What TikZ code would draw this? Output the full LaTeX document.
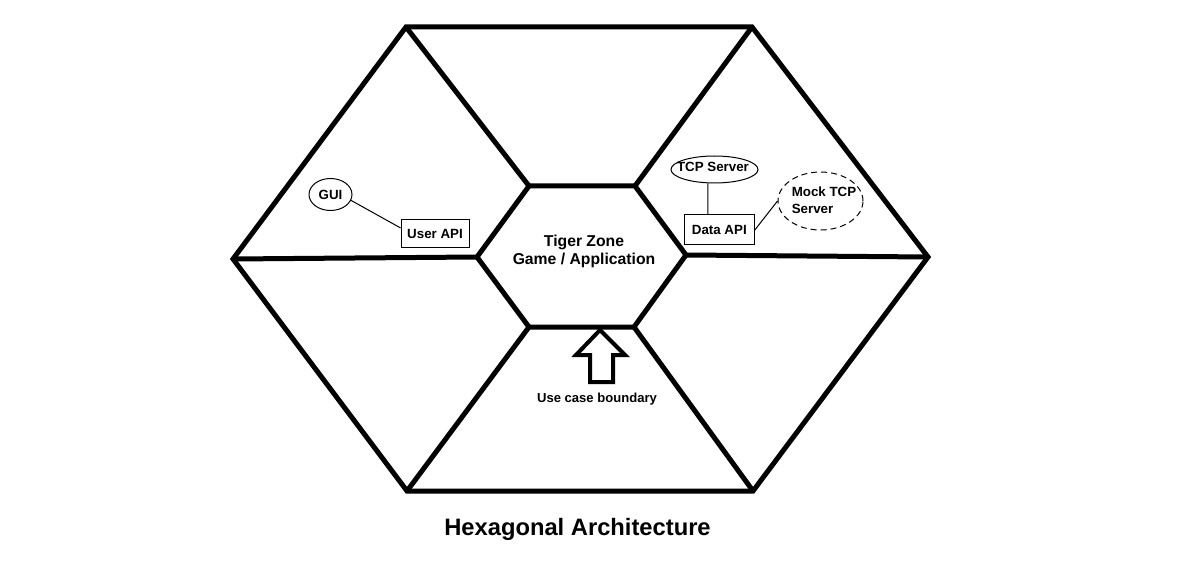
\documentclass[tikz,border=0pt]{standalone}
\usepackage{fontspec}
\setmainfont{Liberation Sans}
\usetikzlibrary{shapes.geometric}
\begin{document}
\begin{tikzpicture}[x=0.75pt,y=-0.75pt,
  heavy/.style={line width=3.75pt},
  smalltxt/.style={font=\bfseries\fontsize{10}{12.75}\selectfont, inner sep=0pt},
  oval/.style={draw, line width=0.75pt, ellipse, inner sep=0pt},
  apibox/.style={draw, line width=0.75pt, rectangle, inner sep=0pt},
  link/.style={line width=0.75pt}]
\useasboundingbox (0,0) rectangle (1187,566);

% outer hexagon vertices
\coordinate (OTL) at (406,27);
\coordinate (OTR) at (752,27);
\coordinate (OR)  at (928,257);
\coordinate (OBR) at (753,491);
\coordinate (OBL) at (407,491);
\coordinate (OL)  at (233,259);
% inner hexagon vertices
\coordinate (ITL) at (529,186);
\coordinate (ITR) at (635,186);
\coordinate (IR)  at (686,255);
\coordinate (IBR) at (634,327);
\coordinate (IBL) at (529,327);
\coordinate (IL)  at (477,257);

\draw[heavy] (OTL) -- (OTR) -- (OR) -- (OBR) -- (OBL) -- (OL) -- cycle;
\draw[heavy] (ITL) -- (ITR) -- (IR) -- (IBR) -- (IBL) -- (IL) -- cycle;
\draw[heavy] (OTL) -- (ITL);
\draw[heavy] (OTR) -- (ITR);
\draw[heavy] (OR) -- (IR);
\draw[heavy] (OBR) -- (IBR);
\draw[heavy] (OBL) -- (IBL);
\draw[heavy] (OL) -- (IL);

% centre text
\node[font=\bfseries\fontsize{11.8}{13.5}\selectfont, align=center, inner sep=0pt]
  (core) at (584,251.5) {Tiger Zone\\Game / Application};

% left side
\node[oval, smalltxt, minimum width=32.25pt, minimum height=24pt] (gui) at (330.5,194.5) {GUI};
\node[apibox, smalltxt, minimum width=51pt, minimum height=21pt] (userapi) at (435,234) {User API};
\draw[link] (gui.-16) -- (userapi.170);

% right side
\node[oval, minimum width=65.25pt, minimum height=20.25pt] (tcp) at (714.5,169.5) {};
\node[smalltxt] (tcptxt) at (713,167) {TCP Server};
\node[apibox, smalltxt, minimum width=52.5pt, minimum height=22.5pt] (dataapi) at (719.3,230) {Data API};
\node[oval, dash pattern=on 4.5pt off 3pt, minimum width=63.75pt, minimum height=43.5pt] (mock) at (820.5,201) {};
\node[smalltxt, align=left] (mocktxt) at (824,200.7) {Mock TCP\\Server};
\draw[link] ([xshift=-4.9pt]tcp.south) -- ([xshift=-8.5pt]dataapi.north);
\draw[link] (dataapi.east) -- (mock.west);

% use-case arrow
\coordinate (A1) at (600,330);
\draw[line width=3pt] (A1) -- (625,355) -- (613,355) -- (613,382) -- (590,382) -- (590,355) -- (576,355) -- cycle;
\node[font=\bfseries\fontsize{9.8}{12}\selectfont, anchor=base, inner sep=0pt] (usecase) at (597,402) {Use case boundary};

% title
\node[font=\bfseries\fontsize{17.8}{21}\selectfont, anchor=base, inner sep=0pt] (title) at (577.5,535) {Hexagonal Architecture};
\end{tikzpicture}
\end{document}
